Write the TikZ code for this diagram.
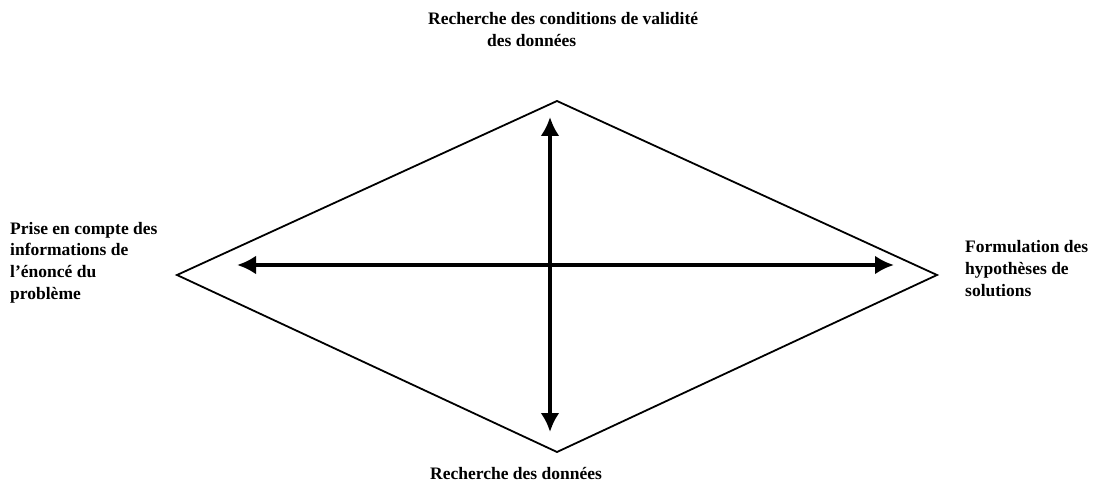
\documentclass[tikz,border=0pt]{standalone}
\usepackage{fontspec}
\setmainfont{Liberation Serif}
\usetikzlibrary{arrows.meta}
\begin{document}
\begin{tikzpicture}[x=1pt,y=-1pt,
  lbl/.style={font=\bfseries\fontsize{17.5}{22}\selectfont, inner sep=0pt, align=left},
  dbl/.style={line width=3.8pt, {Latex[length=19pt,width=19pt]}-{Latex[length=19pt,width=19pt]}},
  rhomb/.style={line width=1.8pt, line join=miter}]
\useasboundingbox (0,0) rectangle (1095,486);
\coordinate (T) at (557,101);
\coordinate (R) at (937,275);
\coordinate (B) at (557,452);
\coordinate (L) at (177,275);
\draw[rhomb] (T) -- (R) -- (B) -- (L) -- cycle;
\coordinate (ha) at (237,265);
\coordinate (hb) at (894,265);
\coordinate (va) at (550,117);
\coordinate (vb) at (550,432);
\draw[dbl] (ha) -- (hb);
\draw[dbl] (va) -- (vb);
\node[lbl, anchor=base west] (top1) at (428,25) {Recherche des conditions de validité};
\node[lbl, anchor=base west] (top2) at (487,47) {des données};
\node[lbl, anchor=base west] (bot) at (430,479) {Recherche des données};
\node[lbl, anchor=base west] (left) at (10,300) {Prise en compte des\\informations de\\l’énoncé du\\problème};
\node[lbl, anchor=base west] (right) at (965,297) {Formulation des\\hypothèses de\\solutions};
\end{tikzpicture}
\end{document}
